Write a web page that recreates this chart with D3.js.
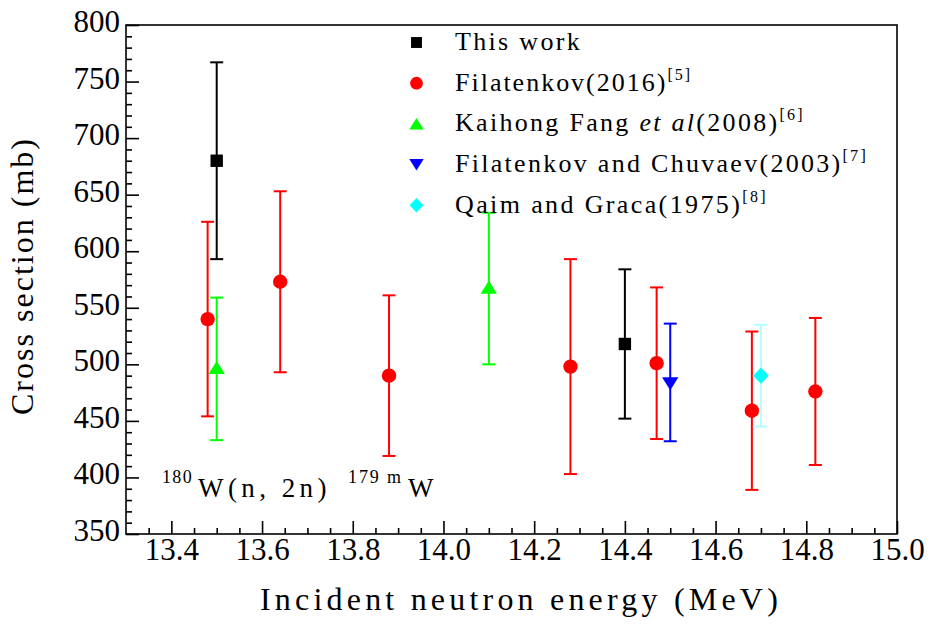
<!DOCTYPE html>
<html>
<head>
<meta charset="utf-8">
<script src="https://cdn.jsdelivr.net/npm/d3@7"></script>
<style>
  html, body { margin: 0; padding: 0; background: #fff; }
  svg { display: block; }
  svg text { font-family: "Liberation Serif", "Times New Roman", Tinos, "Noto Serif", "DejaVu Serif", Times, serif; }
</style>
</head>
<body>
<svg id="chart" width="938" height="625"></svg>
<script>
// ---------------- data ----------------
const xTicks = [13.4, 13.6, 13.8, 14.0, 14.2, 14.4, 14.6, 14.8, 15.0];
const yTicks = [350, 400, 450, 500, 550, 600, 650, 700, 750, 800];

const thisWorkE  = [13.5, 14.4];
const thisWorkV  = [680, 518];
const thisWorkLo = [593, 452];
const thisWorkHi = [767, 584];

const filatE  = [13.48, 13.64, 13.88, 14.28, 14.47, 14.68, 14.82];
const filatV  = [540, 573, 490, 498, 501, 459, 476];
const filatLo = [454, 493, 419, 403, 434, 389, 411];
const filatHi = [626, 653, 561, 593, 568, 529, 541];

const fangE  = [13.5, 14.1];
const fangV  = [497, 568];
const fangLo = [433, 500];
const fangHi = [559, 634];

const chuvE  = [14.5];
const chuvV  = [483];
const chuvLo = [432];
const chuvHi = [536];

const qaimE  = [14.7];
const qaimV  = [490];
const qaimLo = [445];
const qaimHi = [535];

const seriesNames = ["This work", "Filatenkov(2016)", "Kaihong Fang", "Filatenkov and Chuvaev(2003)", "Qaim and Graca(1975)"];
const seriesRefs = ["", "[5]", "[6]", "[7]", "[8]"];

// ---------------- layout ----------------
const svg = d3.select("#chart");
const L = 126, R = 897, T = 25, B = 534;
const x = d3.scaleLinear().domain([13.3, 15.0]).range([L, R]);
const y = d3.scaleLinear().domain([350, 800]).range([B, T]);

function zip(E, V, Lo, Hi) { return E.map((e, i) => ({ e, v: V[i], lo: Lo[i], hi: Hi[i] })); }

// marker shapes (custom symbol types)
const symSquare = { draw(c) { c.rect(-6.2, -6.2, 12.4, 12.4); } };
const symCircle = { draw(c) { c.moveTo(7.2, 0); c.arc(0, 0, 7.2, 0, 2 * Math.PI); } };
const symTriUp = { draw(c) { c.moveTo(0, -6.8); c.lineTo(8.2, 6.3); c.lineTo(-8.2, 6.3); c.closePath(); } };
const symTriDown = { draw(c) { c.moveTo(0, 6.8); c.lineTo(8.2, -6.3); c.lineTo(-8.2, -6.3); c.closePath(); } };
const symDiamond = { draw(c) { c.moveTo(0, -8.2); c.lineTo(7.8, 0); c.lineTo(0, 8.2); c.lineTo(-7.8, 0); c.closePath(); } };

const series = [
  { data: zip(thisWorkE, thisWorkV, thisWorkLo, thisWorkHi), color: "#000000", bar: "#000000", sym: symSquare },
  { data: zip(filatE, filatV, filatLo, filatHi), color: "#ff0000", bar: "#ff0000", sym: symCircle },
  { data: zip(fangE, fangV, fangLo, fangHi), color: "#00ff00", bar: "#00ff00", sym: symTriUp },
  { data: zip(chuvE, chuvV, chuvLo, chuvHi), color: "#0000ff", bar: "#0000ff", sym: symTriDown },
  { data: zip(qaimE, qaimV, qaimLo, qaimHi), color: "#00ffff", bar: "#b0ffff", sym: symDiamond }
];

// ---------------- axes ----------------
const xMinor = d3.range(13.35, 15.0, 0.05).filter(v => xTicks.every(t => Math.abs(t - v) > 1e-6));
const yMinor = d3.range(360, 800, 10).filter(v => v % 50 !== 0);

const gx = svg.append("g").attr("transform", `translate(0,${B})`)
  .call(d3.axisBottom(x).tickValues(xTicks).tickSize(-13).tickFormat(d3.format(".1f")));
gx.append("g").call(d3.axisBottom(x).tickValues(xMinor).tickSize(-6).tickFormat(""));
gx.selectAll(".domain").remove();
gx.attr("font-family", null);
gx.selectAll("g").attr("font-family", null);
gx.selectAll("line").attr("stroke", "#000").attr("stroke-width", 1.6);
gx.selectAll("text").attr("y", 26).attr("dy", 0).attr("font-size", 31).attr("fill", "#000");

const gy = svg.append("g").attr("transform", `translate(${L},0)`)
  .call(d3.axisLeft(y).tickValues(yTicks).tickSize(-13).tickFormat(d3.format("d")));
gy.append("g").call(d3.axisLeft(y).tickValues(yMinor).tickSize(-6).tickFormat(""));
gy.selectAll(".domain").remove();
gy.attr("font-family", null);
gy.selectAll("g").attr("font-family", null);
gy.selectAll("line").attr("stroke", "#000").attr("stroke-width", 1.6);
gy.selectAll("text").attr("x", -6).attr("dy", 6.5).attr("font-size", 31)
  .attr("fill", "#000").attr("text-anchor", "end");

// frame
svg.append("rect").attr("x", L).attr("y", T).attr("width", R - L).attr("height", B - T)
  .attr("fill", "none").attr("stroke", "#000").attr("stroke-width", 1.6);

// ---------------- error bars + markers ----------------
const cap = 6.5;
series.forEach(s => {
  const g = svg.append("g");
  const eb = g.selectAll("g.eb").data(s.data).join("g").attr("class", "eb")
    .attr("stroke", s.bar).attr("stroke-width", 2).attr("fill", "none");
  eb.append("line").attr("x1", d => x(d.e)).attr("x2", d => x(d.e)).attr("y1", d => y(d.lo)).attr("y2", d => y(d.hi));
  eb.append("line").attr("x1", d => x(d.e) - cap).attr("x2", d => x(d.e) + cap).attr("y1", d => y(d.lo)).attr("y2", d => y(d.lo));
  eb.append("line").attr("x1", d => x(d.e) - cap).attr("x2", d => x(d.e) + cap).attr("y1", d => y(d.hi)).attr("y2", d => y(d.hi));
});
series.forEach(s => {
  svg.append("g").selectAll("path").data(s.data).join("path")
    .attr("d", d3.symbol().type(s.sym))
    .attr("transform", d => `translate(${x(d.e)},${y(d.v)})`)
    .attr("fill", s.color);
});

// ---------------- text helpers ----------------
function fitWidth(sel, target) {
  const node = sel.node();
  const w = node.getComputedTextLength();
  const n = node.textContent.length;
  if (n > 1) sel.attr("letter-spacing", ((target - w) / n).toFixed(3));
}

// ---------------- legend ----------------
const legX = 416.5, legTextX = 455, legY0 = 42.5, legDy = 40.7;
const legTargets = [127, 237, 350, 413, 313];
series.forEach((s, i) => {
  const cy = legY0 + i * legDy;
  svg.append("path").attr("d", d3.symbol().type(s.sym)())
    .attr("transform", `translate(${legX},${cy}) scale(0.88)`).attr("fill", s.color);
  const t = svg.append("text").attr("x", legTextX).attr("y", cy + 7.5)
    .attr("font-size", 26).attr("fill", "#000");
  if (i === 2) {
    t.append("tspan").text("Kaihong Fang ");
    t.append("tspan").attr("font-style", "italic").text("et al");
    t.append("tspan").text("(2008)");
  } else {
    t.append("tspan").text(seriesNames[i]);
  }
  if (seriesRefs[i]) {
    t.append("tspan").attr("dy", -11).attr("font-size", 16).text(seriesRefs[i]);
  }
  fitWidth(t, legTargets[i]);
});

// ---------------- annotation ----------------
const annParts = [
  { text: "180",      x: 162, y: 483, size: 18, w: 31 },
  { text: "W(n, 2n)", x: 198, y: 497, size: 27, w: 133 },
  { text: "179 m",    x: 348, y: 483, size: 18, w: 55 },
  { text: "W",        x: 408, y: 497, size: 27, w: 30 }
];
const ann = svg.append("text").attr("fill", "#000");
annParts.forEach(p => {
  const ts = ann.append("tspan").attr("x", p.x).attr("y", p.y).attr("font-size", p.size).text(p.text);
  fitWidth(ts, p.w);
});

// ---------------- axis titles ----------------
const xt = svg.append("text").attr("x", 521).attr("y", 610).attr("text-anchor", "middle")
  .attr("font-size", 32).attr("fill", "#000").text("Incident neutron energy (MeV)");
fitWidth(xt, 522);

const yt = svg.append("text").attr("transform", "translate(33,276) rotate(-90)")
  .attr("text-anchor", "middle").attr("font-size", 32).attr("fill", "#000").text("Cross section (mb)");
fitWidth(yt, 278);
</script>
</body>
</html>
